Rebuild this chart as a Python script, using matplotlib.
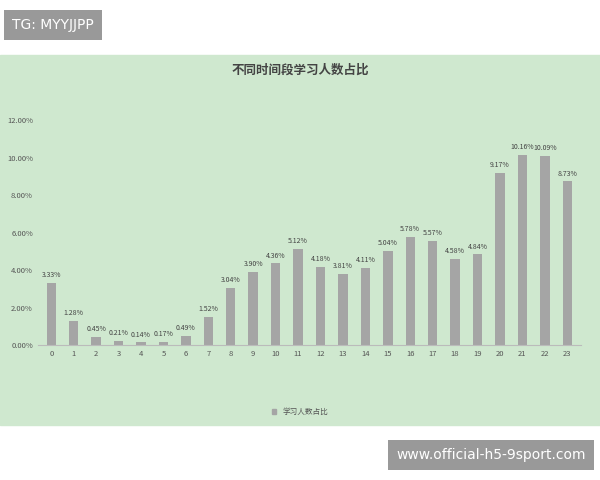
import matplotlib.pyplot as plt
from matplotlib.patches import Rectangle, Patch

plt.rcParams['font.family'] = ['Noto Sans CJK SC', 'DejaVu Sans']

hours = [str(h) for h in range(24)]
shares = [3.33, 1.28, 0.45, 0.21, 0.14, 0.17, 0.49, 1.52, 3.04, 3.90, 4.36, 5.12,
          4.18, 3.81, 4.11, 5.04, 5.78, 5.57, 4.58, 4.84, 9.17, 10.16, 10.09, 8.73]
yticks = [0, 2, 4, 6, 8, 10, 12]

green = '#cfe8cf'
bar_color = '#a5a5a5'

fig = plt.figure(figsize=(6, 4.8), dpi=100)
fig.add_artist(Rectangle((0, 1 - 425 / 480), 1, 370 / 480, transform=fig.transFigure,
                         color=green, zorder=-10))

ax = fig.add_axes([0.063, 0.281, 0.905, 0.469])
ax.set_zorder(1)
ax.set_facecolor('none')
ax.bar(hours, shares, width=0.42, color=bar_color)
for i, v in enumerate(shares):
    ax.text(i, v + 0.2, f'{v:.2f}%', ha='center', va='bottom', fontsize=5, color='#444444')

ax.set_ylim(0, 12)
ax.set_xlim(-0.6, 23.6)
ax.set_yticks(yticks)
ax.set_yticklabels([f'{t:.2f}%' for t in yticks], fontsize=5.5, color='#555555')
ax.tick_params(axis='x', labelsize=5.5, colors='#555555', length=0)
ax.tick_params(axis='y', length=0)
for s in ['top', 'right', 'left']:
    ax.spines[s].set_visible(False)
ax.spines['bottom'].set_color('#bbbbbb')

fig.text(0.5, 1 - 70 / 480, '不同时间段学习人数占比', ha='center', va='center',
         fontsize=9, color='#444444', weight='bold')
fig.legend(handles=[Patch(color=bar_color, label='学习人数占比')], loc='center',
           bbox_to_anchor=(0.5, 1 - 412 / 480), frameon=False, fontsize=5.5,
           handlelength=0.6, handleheight=0.6, labelcolor='#555555')

fig.text(12 / 600, 1 - 25 / 480, 'TG: MYYJJPP', ha='left', va='center', fontsize=10,
         color='white', family='DejaVu Sans',
         bbox=dict(facecolor='#999999', edgecolor='none', pad=6))
fig.text(586 / 600, 1 - 455 / 480, 'www.official-h5-9sport.com', ha='right', va='center',
         fontsize=10, color='white', family='DejaVu Sans',
         bbox=dict(facecolor='#999999', edgecolor='none', pad=6))

fig.savefig('out.png', dpi=100)
